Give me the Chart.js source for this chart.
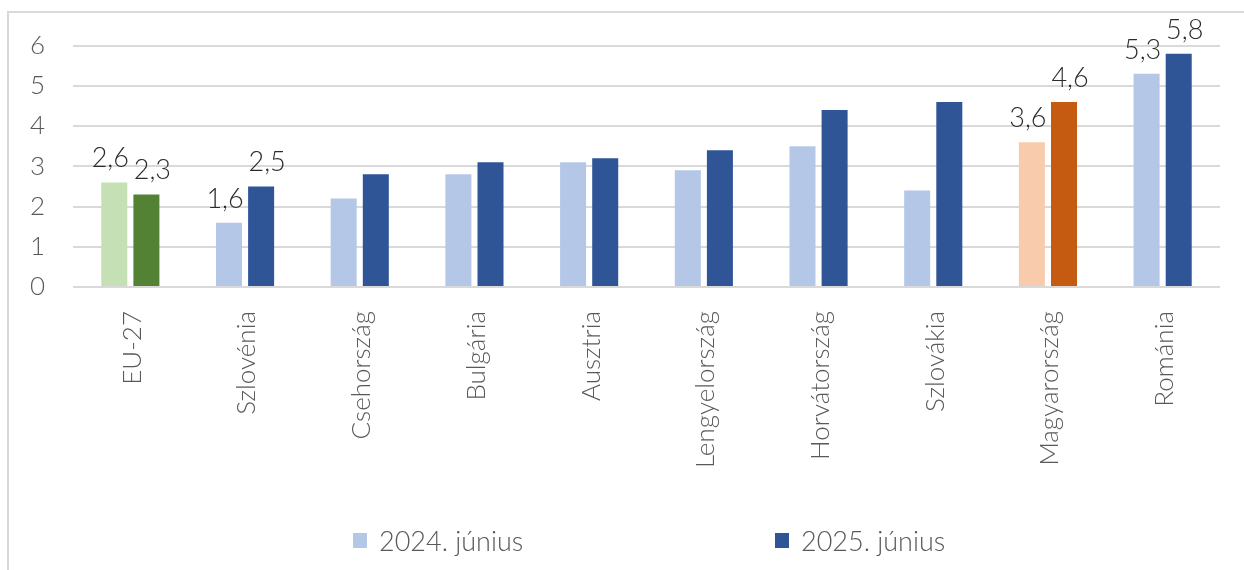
<!DOCTYPE html>
<html>
<head>
<meta charset="utf-8">
<script src="https://cdn.jsdelivr.net/npm/chart.js@4.4.1/dist/chart.umd.min.js"></script>
<style>
  html, body { margin: 0; padding: 0; background: #fff; }
  body { width: 1244px; height: 570px; overflow: hidden; position: relative; }
  #box { position: absolute; left: 7px; top: 11px; width: 1250px; height: 580px;
         border-left: 2px solid #d9d9d9; border-top: 2px solid #d9d9d9; box-sizing: border-box; }
  #wrap { position: absolute; left: 9px; top: 2px; width: 1235px; height: 568px; }
  .leg { position: absolute; top: 524px; height: 32px; display: flex; align-items: center;
         font-family: Lato, 'Open Sans', sans-serif; font-weight: 300; font-size: 27px; color: #595959;
         white-space: nowrap; }
  .leg i { display: inline-block; width: 14px; height: 15px; margin-right: 12px; }
</style>
</head>
<body>
<div id="box"></div>
<div id="wrap"><canvas id="c"></canvas></div>
<div id="legend"></div>
<script>
const categories = ["EU-27", "Szlovénia", "Csehország", "Bulgária", "Ausztria",
                    "Lengyelország", "Horvátország", "Szlovákia", "Magyarország", "Románia"];
const series2024 = [2.6, 1.6, 2.2, 2.8, 3.1, 2.9, 3.5, 2.4, 3.6, 5.3];
const series2025 = [2.3, 2.5, 2.8, 3.1, 3.2, 3.4, 4.4, 4.6, 4.6, 5.8];
const seriesNames = ["2024. június", "2025. június"];
const labelledCategories = ["EU-27", "Szlovénia", "Magyarország", "Románia"];
const yTicks = [0, 1, 2, 3, 4, 5, 6];

const FONT = "Lato, 'Open Sans', sans-serif";
const legendColors = ["#b4c7e7", "#2f5597"];
const light24 = ["#c5e0b4", "#b4c7e7", "#b4c7e7", "#b4c7e7", "#b4c7e7", "#b4c7e7", "#b4c7e7", "#b4c7e7", "#f8cbad", "#b4c7e7"];
const dark25  = ["#548235", "#2f5597", "#2f5597", "#2f5597", "#2f5597", "#2f5597", "#2f5597", "#2f5597", "#c55a11", "#2f5597"];
const labelDx = [-4, 6];

const valueLabels = {
  id: "valueLabels",
  afterDatasetsDraw(chart) {
    const ctx = chart.ctx;
    ctx.save();
    ctx.font = "300 27px " + FONT;
    ctx.fillStyle = "#2b2b2b";
    ctx.textAlign = "center";
    ctx.textBaseline = "alphabetic";
    chart.data.datasets.forEach((ds, di) => {
      const meta = chart.getDatasetMeta(di);
      meta.data.forEach((bar, i) => {
        if (!labelledCategories.includes(chart.data.labels[i])) return;
        const txt = String(ds.data[i]).replace(".", ",");
        ctx.fillText(txt, bar.x + labelDx[di], bar.y - 15);
      });
    });
    ctx.restore();
  }
};

const legendLeft = [353, 775];
const legendEl = document.getElementById("legend");
seriesNames.forEach((name, i) => {
  const d = document.createElement("div");
  d.className = "leg";
  d.style.left = legendLeft[i] + "px";
  const sw = document.createElement("i");
  sw.style.background = legendColors[i];
  d.appendChild(sw);
  d.appendChild(document.createTextNode(name));
  legendEl.appendChild(d);
});

new Chart(document.getElementById("c"), {
  type: "bar",
  data: {
    labels: categories,
    datasets: [
      { label: seriesNames[0], data: series2024, backgroundColor: light24 },
      { label: seriesNames[1], data: series2025, backgroundColor: dark25 }
    ]
  },
  plugins: [valueLabels],
  options: {
    responsive: true,
    maintainAspectRatio: false,
    animation: false,
    categoryPercentage: 0.56,
    barPercentage: 0.81,
    layout: { padding: { top: 23, right: 24, left: 0, bottom: 0 } },
    plugins: {
      tooltip: { enabled: false },
      legend: { display: false }
    },
    scales: {
      x: {
        grid: { display: false },
        border: { display: false },
        ticks: {
          color: "#595959",
          font: { family: FONT, size: 26, weight: "300" },
          minRotation: 90, maxRotation: 90,
          padding: 16,
          labelOffset: 2,
          autoSkip: false
        },
        afterFit(scale) { scale.height = 283; }
      },
      y: {
        min: 0, max: 6,
        afterBuildTicks(scale) { scale.ticks = yTicks.map(v => ({ value: v })); },
        grid: { color: "#d9d9d9", lineWidth: 2, drawTicks: false },
        border: { display: false },
        ticks: {
          color: "#595959",
          font: { family: FONT, size: 26, weight: "300" },
          padding: 28
        },
        afterFit(scale) { scale.width = 64; }
      }
    }
  }
});
</script>
</body>
</html>
